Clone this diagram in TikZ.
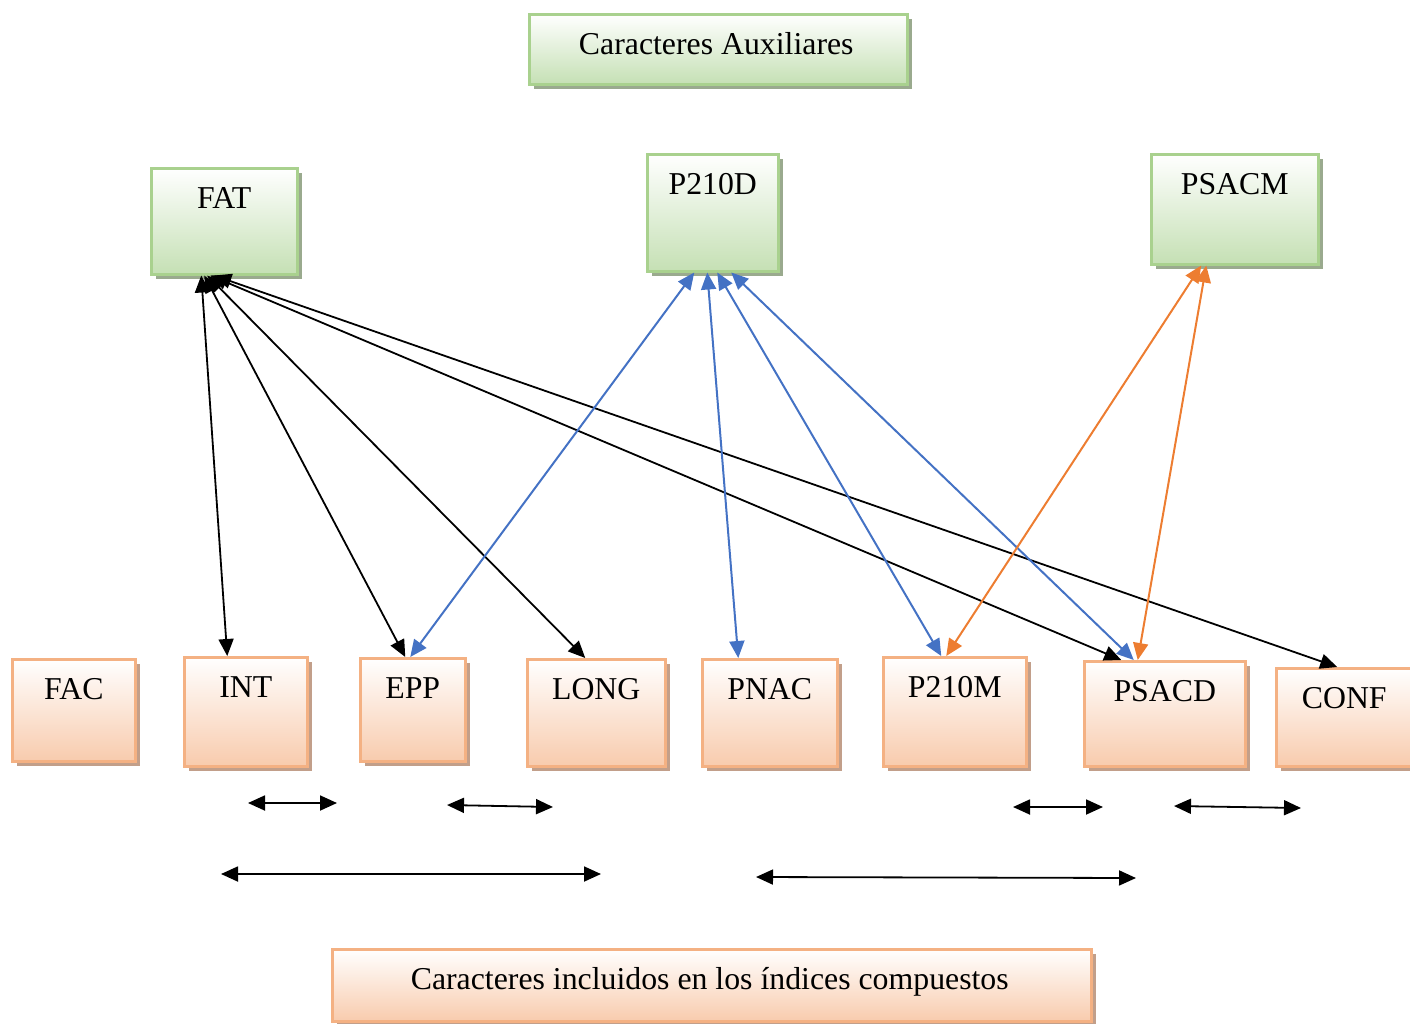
\documentclass[tikz,border=0pt]{standalone}
\usepackage{fontspec}
\setmainfont{Liberation Serif}
\usetikzlibrary{arrows.meta,shadows}
\definecolor{gborder}{HTML}{A9D18E}
\definecolor{gfill}{HTML}{C5E0B4}
\definecolor{gshadow}{HTML}{9AAA8E}
\definecolor{oborder}{HTML}{F4B183}
\definecolor{ofill}{HTML}{F8CBAD}
\definecolor{oshadow}{HTML}{C29F8A}
\definecolor{cblue}{HTML}{4472C4}
\definecolor{corange}{HTML}{ED7D31}
\tikzset{
  gbox/.style={draw=gborder, line width=2.5pt, top color=white, bottom color=gfill,
    drop shadow={shadow xshift=5pt, shadow yshift=-5pt, fill=gshadow, opacity=1},
    anchor=north west, inner sep=0pt},
  obox/.style={draw=oborder, line width=2.5pt, top color=white, bottom color=ofill,
    drop shadow={shadow xshift=5pt, shadow yshift=-5pt, fill=oshadow, opacity=1},
    anchor=north west, inner sep=0pt},
  lbl/.style={anchor=base, inner sep=0pt, font=\fontsize{31.8}{36}\selectfont},
  tip/.style={{Triangle[length=17pt,width=15pt]}-{Triangle[length=17pt,width=15pt]}},
  blk/.style={tip, draw=black, line width=1.8pt},
  blu/.style={tip, draw=cblue, fill=cblue, line width=2pt},
  org/.style={tip, draw=corange, fill=corange, line width=2pt},
}
\begin{document}
\begin{tikzpicture}[x=1pt,y=-1pt]
\useasboundingbox (0,0) rectangle (1410,1023);
\clip (0,0) rectangle (1410,1023);

% green boxes
\node[gbox, minimum width=378, minimum height=70] (AUX) at (528,13) {};
\node[gbox, minimum width=146, minimum height=106] (FAT) at (150,167) {};
\node[gbox, minimum width=131, minimum height=117] (P210D) at (646,153) {};
\node[gbox, minimum width=167, minimum height=110] (PSACM) at (1150,153) {};

% orange boxes
\node[obox, minimum width=123, minimum height=102] (FAC) at (11,658) {};
\node[obox, minimum width=123, minimum height=109] (INT) at (183,656) {};
\node[obox, minimum width=105, minimum height=103] (EPP) at (359,657) {};
\node[obox, minimum width=138, minimum height=107] (LONG) at (526,658) {};
\node[obox, minimum width=135, minimum height=107] (PNAC) at (701,658) {};
\node[obox, minimum width=143, minimum height=109] (P210M) at (882,656) {};
\node[obox, minimum width=161, minimum height=105] (PSACD) at (1083,660) {};
\node[obox, minimum width=150, minimum height=98] (CONF) at (1275,667) {};
\node[obox, minimum width=759, minimum height=72] (INC) at (331,948) {};

% labels
\node[lbl] (AUXt) at ([xshift=-2pt,yshift=-41pt]AUX.north) {Caracteres Auxiliares};
\node[lbl] (FATt) at ([yshift=-41pt]FAT.north) {FAT};
\node[lbl] (P210Dt) at ([yshift=-41pt]P210D.north) {P210D};
\node[lbl] (PSACMt) at ([yshift=-41pt]PSACM.north) {PSACM};
\node[lbl] (FACt) at ([yshift=-41pt]FAC.north) {FAC};
\node[lbl] (INTt) at ([yshift=-41pt]INT.north) {INT};
\node[lbl] (EPPt) at ([yshift=-41pt]EPP.north) {EPP};
\node[lbl] (LONGt) at ([yshift=-41pt]LONG.north) {LONG};
\node[lbl] (PNACt) at ([yshift=-41pt]PNAC.north) {PNAC};
\node[lbl] (P210Mt) at ([yshift=-41pt]P210M.north) {P210M};
\node[lbl] (PSACDt) at ([yshift=-41pt]PSACD.north) {PSACD};
\node[lbl] (CONFt) at ([xshift=-7pt,yshift=-41pt]CONF.north) {CONF};
\node[lbl] (INCt) at ([xshift=-2pt,yshift=-41pt]INC.north) {Caracteres incluidos en los índices compuestos};

% black connectors from FAT
\draw[blk] ([xshift=-23pt]FAT.south) -- ([xshift=-18.5pt]INT.north);
\draw[blk] ([xshift=-20pt]FAT.south) -- ([xshift=-7.5pt]EPP.north);
\draw[blk] ([xshift=-17pt]FAT.south) -- ([xshift=-11pt]LONG.north);
\draw[blk] ([xshift=-14pt]FAT.south) -- ([xshift=-43.5pt]PSACD.north);
\draw[blk] ([xshift=-10pt]FAT.south) -- ([xshift=-14pt]CONF.north);

% blue connectors from P210D
\draw[blu] ([xshift=-18.5pt]P210D.south) -- ([xshift=-2.5pt]EPP.north);
\draw[blu] ([xshift=-5.5pt]P210D.south) -- ([xshift=-31.5pt]PNAC.north);
\draw[blu] ([xshift=4.5pt]P210D.south) -- ([xshift=-13.5pt]P210M.north);
\draw[blu] ([xshift=18.5pt]P210D.south) -- ([xshift=-31pt]PSACD.north);

% orange connectors from PSACM
\draw[org] ([xshift=-33.5pt]PSACM.south) -- ([xshift=-8.5pt]P210M.north);
\draw[org] ([xshift=-28.5pt]PSACM.south) -- ([xshift=-27pt]PSACD.north);

% free double arrows
\coordinate (a1) at (248,803); \coordinate (b1) at (337,803);
\coordinate (a2) at (447,805); \coordinate (b2) at (553,807);
\coordinate (a3) at (1013,807); \coordinate (b3) at (1103,807);
\coordinate (a4) at (1174,806); \coordinate (b4) at (1301,808);
\coordinate (a5) at (221,874); \coordinate (b5) at (601,874);
\coordinate (a6) at (756,877); \coordinate (b6) at (1136,878);
\draw[blk] (a1) -- (b1);
\draw[blk] (a2) -- (b2);
\draw[blk] (a3) -- (b3);
\draw[blk] (a4) -- (b4);
\draw[blk] (a5) -- (b5);
\draw[blk] (a6) -- (b6);
\end{tikzpicture}
\end{document}
